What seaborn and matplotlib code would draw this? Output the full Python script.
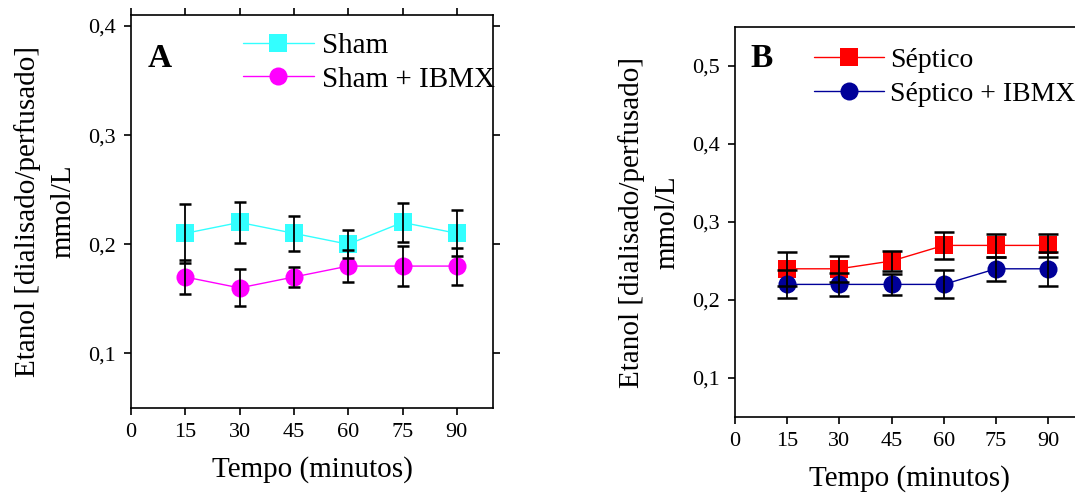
import matplotlib
matplotlib.use("Agg")
import matplotlib.pyplot as plt
import seaborn as sns
import pandas as pd
import numpy as np

tempo = [15, 30, 45, 60, 75, 90]

sham = [0.21, 0.22, 0.21, 0.20, 0.22, 0.21]
sham_err = [0.027, 0.019, 0.016, 0.013, 0.018, 0.021]
sham_ibmx = [0.17, 0.16, 0.17, 0.18, 0.18, 0.18]
sham_ibmx_err = [0.016, 0.017, 0.009, 0.015, 0.018, 0.017]

septico = [0.24, 0.24, 0.25, 0.27, 0.27, 0.27]
septico_err = [0.022, 0.017, 0.013, 0.017, 0.015, 0.015]
septico_ibmx = [0.22, 0.22, 0.22, 0.22, 0.24, 0.24]
septico_ibmx_err = [0.018, 0.015, 0.013, 0.018, 0.015, 0.022]

x_ticks = [0, 15, 30, 45, 60, 75, 90]

sns.set_theme(style="ticks")
plt.rcParams['font.family'] = ['Liberation Serif', 'DejaVu Serif']
plt.rcParams['text.color'] = 'black'
plt.rcParams['axes.labelcolor'] = 'black'
plt.rcParams['xtick.color'] = 'black'
plt.rcParams['ytick.color'] = 'black'

fig = plt.figure(figsize=(10.75, 4.93), dpi=100)
W, H = 1075, 493
axA = fig.add_axes([131 / W, (H - 408) / H, (493 - 131) / W, (408 - 15) / H])
axB = fig.add_axes([735 / W, (H - 417) / H, (1083 - 735) / W, (417 - 27) / H])


def fmt(v, pos):
    return ("%.1f" % v).replace(".", ",")


def panel(ax, s1, e1, s2, e2, names, colors, markers, ylim, yticks, letter,
          mirror, capsize, letter_y):
    df = pd.DataFrame({
        "tempo": tempo * 2,
        "etanol": s1 + s2,
        "grupo": [names[0]] * len(tempo) + [names[1]] * len(tempo),
    })
    sns.lineplot(data=df, x="tempo", y="etanol", hue="grupo", style="grupo",
                 palette={names[0]: colors[0], names[1]: colors[1]},
                 markers={names[0]: markers[0], names[1]: markers[1]},
                 dashes=False, markersize=13, markeredgewidth=0, linewidth=1,
                 ax=ax, legend=True, zorder=2)
    for s, e in ((s1, e1), (s2, e2)):
        ax.errorbar(tempo, s, yerr=e, fmt="none", ecolor="black",
                    elinewidth=1.3, capsize=capsize, capthick=1.8, zorder=3)
    ax.set_xlim(0, 100)
    ax.set_ylim(*ylim)
    ax.set_xticks(x_ticks)
    ax.set_yticks(yticks)
    ax.yaxis.set_major_formatter(matplotlib.ticker.FuncFormatter(fmt))
    for sp in ax.spines.values():
        sp.set_linewidth(1.2)
        sp.set_color("black")
    ax.tick_params(axis="both", labelsize=16, length=5, width=1.2, direction="out",
                   top=mirror, right=mirror, colors="black", labelcolor="black", pad=6)
    ax.set_xlabel("Tempo (minutos)", fontsize=21, labelpad=10, color="black")
    ax.set_ylabel("Etanol [dialisado/perfusado]\nmmol/L", fontsize=21, labelpad=8,
                  linespacing=1.5, color="black")
    ax.text(0.045, letter_y, letter, transform=ax.transAxes, fontsize=24,
            fontweight="bold", va="top", ha="left", color="black")
    return ax


panel(axA, sham, sham_err, sham_ibmx, sham_ibmx_err, ["Sham", "Sham + IBMX"],
      ["#33ffff", "#ff00ff"], ["s", "o"], (0.05, 0.41), [0.1, 0.2, 0.3, 0.4], "A",
      True, 4.5, 0.93)
panel(axB, septico, septico_err, septico_ibmx, septico_ibmx_err,
      ["Séptico", "Séptico + IBMX"], ["#ff0000", "#000099"], ["s", "o"],
      (0.05, 0.55), [0.1, 0.2, 0.3, 0.4, 0.5], "B", False, 7, 0.96)

axA.legend(loc="upper left", bbox_to_anchor=(0.26, 1.0), frameon=False, fontsize=21,
           handlelength=2.45, handletextpad=0.27, labelspacing=0.25, borderaxespad=0.2)
axB.legend(loc="upper left", bbox_to_anchor=(0.18, 0.99), frameon=False, fontsize=20,
           handlelength=2.5, handletextpad=0.22, labelspacing=0.3, borderaxespad=0.2)

fig.savefig("out.png", dpi=100)
